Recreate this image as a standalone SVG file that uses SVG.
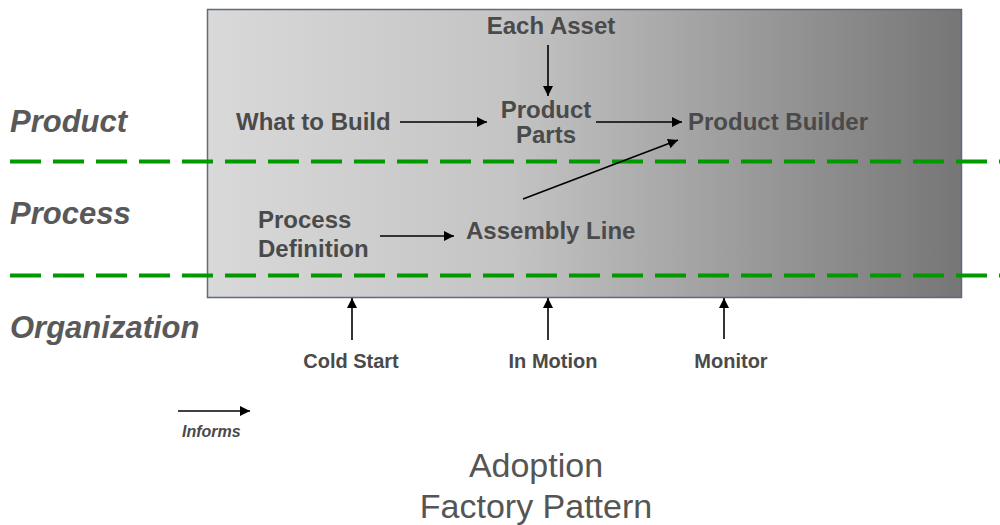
<svg xmlns="http://www.w3.org/2000/svg" width="1000" height="525" viewBox="0 0 1000 525">
<defs>
<linearGradient id="bg" x1="0" y1="0" x2="1" y2="0">
<stop offset="0" stop-color="#d9d9d9"/>
<stop offset="0.4" stop-color="#c4c4c4"/>
<stop offset="1" stop-color="#767676"/>
</linearGradient>
<marker id="ah" viewBox="0 0 10 10" refX="10" refY="5" markerWidth="10" markerHeight="10" markerUnits="userSpaceOnUse" orient="auto">
<path d="M0,0 L10,5 L0,10 Z" fill="#000"/>
</marker>
</defs>
<style>
.node{font-family:"Liberation Sans",Arial,sans-serif;font-weight:bold;font-size:24px;fill:#4a4a4a}
.lane{font-family:"Liberation Sans",Arial,sans-serif;font-weight:bold;font-style:italic;font-size:31px;fill:#595959}
.small{font-family:"Liberation Sans",Arial,sans-serif;font-weight:bold;font-size:20px;fill:#4a4a4a}
.title{font-family:"Liberation Sans",Arial,sans-serif;font-size:34px;fill:#555}
.conn{stroke:#000;stroke-width:1.6;fill:none;marker-end:url(#ah)}
.dash{stroke:#009a00;stroke-width:4;stroke-dasharray:31,12;fill:none}
</style>
<rect id="frame" x="207.5" y="9.5" width="754" height="288" fill="url(#bg)" stroke="#5b6b80" stroke-width="1.5"/>
<g id="lanes">
<text class="lane" x="10" y="132">Product</text>
<text class="lane" x="10" y="224">Process</text>
<text class="lane" x="10" y="338">Organization</text>
</g>
<g id="separators">
<line class="dash" x1="10" y1="161.5" x2="1000" y2="161.5"/>
<line class="dash" x1="10" y1="275.5" x2="1000" y2="275.5"/>
</g>
<g id="connectors">
<line class="conn" x1="548" y1="45" x2="548" y2="96"/>
<line class="conn" x1="400" y1="122" x2="487" y2="122"/>
<line class="conn" x1="596" y1="122" x2="682" y2="122"/>
<line class="conn" x1="523" y1="199" x2="678" y2="140"/>
<line class="conn" x1="380" y1="236" x2="454" y2="236"/>
<line class="conn" x1="352" y1="340" x2="352" y2="298"/>
<line class="conn" x1="548" y1="340" x2="548" y2="298"/>
<line class="conn" x1="724" y1="339" x2="724" y2="298"/>
<line class="conn" x1="178" y1="411" x2="250" y2="411"/>
</g>
<g id="each-asset"><text class="node" x="551" y="34" text-anchor="middle">Each Asset</text></g>
<g id="what-to-build"><text class="node" x="236" y="130">What to Build</text></g>
<g id="product-parts"><text class="node" x="546" y="118" text-anchor="middle">Product</text><text class="node" x="546" y="143" text-anchor="middle">Parts</text></g>
<g id="product-builder"><text class="node" x="688" y="130">Product Builder</text></g>
<g id="process-definition"><text class="node" x="258" y="228">Process</text><text class="node" x="258" y="257">Definition</text></g>
<g id="assembly-line"><text class="node" x="466" y="239">Assembly Line</text></g>
<g id="cold-start"><text class="small" x="351" y="368" text-anchor="middle">Cold Start</text></g>
<g id="in-motion"><text class="small" x="553" y="368" text-anchor="middle">In Motion</text></g>
<g id="monitor"><text class="small" x="731" y="368" text-anchor="middle">Monitor</text></g>
<g id="legend"><text class="small" x="182" y="437" style="font-style:italic;font-size:16px">Informs</text></g>
<g id="title">
<text class="title" x="536" y="477" text-anchor="middle">Adoption</text>
<text class="title" x="536" y="518" text-anchor="middle">Factory Pattern</text>
</g>
</svg>
